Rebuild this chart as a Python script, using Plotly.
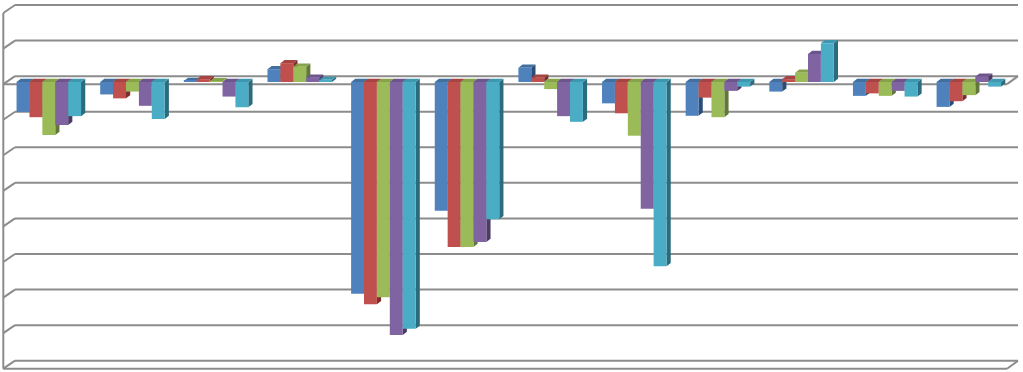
import plotly.graph_objects as go

# ---------------- data (values in gridline units) ----------------
categories = ["1", "2", "3", "4", "5", "6", "7", "8", "9", "10", "11", "12"]
series_names = ["Series 1", "Series 2", "Series 3", "Series 4", "Series 5"]
s1 = [-0.84, -0.35, 0.03, 0.36, -5.95, -3.62, 0.40, -0.60, -0.95, -0.27, -0.39, -0.70]
s2 = [-0.99, -0.46, 0.08, 0.53, -6.25, -4.64, 0.12, -0.88, -0.44, 0.08, -0.32, -0.54]
s3 = [-1.49, -0.27, 0.02, 0.43, -6.05, -4.64, -0.20, -1.51, -0.99, 0.26, -0.39, -0.37]
s4 = [-1.21, -0.67, -0.41, 0.12, -7.11, -4.50, -0.96, -3.56, -0.25, 0.79, -0.25, 0.15]
s5 = [-0.96, -1.04, -0.71, 0.06, -6.94, -3.86, -1.12, -5.18, -0.13, 1.09, -0.41, -0.13]
series = [s1, s2, s3, s4, s5]

# ---------------- styles ----------------
front_colors = ["#4F81BD", "#C0504D", "#9BBB59", "#8064A2", "#4BACC6"]
top_colors = ["#41709F", "#A54441", "#86A34A", "#6C548C", "#3C97AF"]
side_colors = ["#2C4D75", "#7D2F2D", "#62783A", "#4C3B63", "#2A6B7E"]
grid_color = "#8C8C8C"

W, H = 1023, 372
px_per_cat = 83.64
px_per_unit = 35.57
zero_px = 82.0
x_left_px, x_right_px = 15.0, 1018.0
first_center_px = 48.8

bar_w = 12.9 / px_per_cat          # front face width in category units
dx = 4.2 / px_per_cat              # depth offset (x)
dy = 3.2 / px_per_unit             # depth offset (y)
depth_front = 8.0 / px_per_unit    # wall depth (y offset)
tick0 = (zero_px - 5.0) / px_per_unit - 2  # back-wall gridline offset

xr0 = -(first_center_px - x_left_px) / px_per_cat
xr1 = xr0 + (x_right_px - x_left_px) / px_per_cat
yr0 = -(H - zero_px) / px_per_unit
yr1 = zero_px / px_per_unit

xpos = list(range(len(categories)))

fig = go.Figure()
shapes = []

# ---- back-wall gridlines, side wall, floor (all beneath the bars) ----
wall_x_front = 3.3 / W
wall_x_back = x_left_px / W
gl = dict(color=grid_color, width=2)
for k in range(11):
    g = tick0 + 2 - k
    shapes.append(dict(type="line", xref="paper", yref="y", layer="below",
                       x0=wall_x_back, y0=g, x1=x_right_px / W, y1=g, line=gl))
    shapes.append(dict(type="line", xref="paper", yref="y", layer="below",
                       x0=wall_x_front, y0=g - depth_front, x1=wall_x_back, y1=g, line=gl))
shapes.append(dict(type="line", xref="paper", yref="y", layer="below",
                   x0=wall_x_front, y0=tick0 + 2 - depth_front,
                   x1=wall_x_front, y1=tick0 - 8 - depth_front, line=gl))
floor_g = tick0 - 8
shapes.append(dict(type="line", xref="paper", yref="y", layer="below",
                   x0=wall_x_front, y0=floor_g - depth_front, x1=1007 / W, y1=floor_g - depth_front, line=gl))
shapes.append(dict(type="line", xref="paper", yref="y", layer="below",
                   x0=1007 / W, y0=floor_g - depth_front, x1=x_right_px / W, y1=floor_g, line=gl))
shapes.append(dict(type="line", xref="paper", yref="y", layer="below",
                   x0=wall_x_front, y0=tick0 - depth_front, x1=1007 / W, y1=tick0 - depth_front, line=gl))
shapes.append(dict(type="line", xref="paper", yref="y", layer="below",
                   x0=1007 / W, y0=tick0 - depth_front, x1=x_right_px / W, y1=tick0, line=gl))

# ---- bars (front faces) + 3D side / top faces ----
for j, vals in enumerate(series):
    off = (j - 2.5) * bar_w
    fig.add_trace(go.Bar(
        x=xpos, y=vals, name=series_names[j], width=bar_w, offset=off,
        opacity=1,
        marker=dict(color=front_colors[j], line=dict(width=0)),
        hoverinfo="y",
    ))
    for i, v in zip(xpos, vals):
        xl = i + off
        xr = xl + bar_w
        b, t = min(v, 0), max(v, 0)
        shapes.append(dict(
            type="path", xref="x", yref="y", layer="below",
            path=f"M {xr},{b} L {xr},{t} L {xr+dx},{t+dy} L {xr+dx},{b+dy} Z",
            fillcolor=side_colors[j], line=dict(width=0)))
        shapes.append(dict(
            type="path", xref="x", yref="y", layer="below",
            path=f"M {xl},{t} L {xr},{t} L {xr+dx},{t+dy} L {xl+dx},{t+dy} Z",
            fillcolor=top_colors[j], line=dict(width=0)))

fig.update_layout(
    width=W, height=H,
    margin=dict(l=0, r=0, t=0, b=0),
    paper_bgcolor="white",
    plot_bgcolor="rgba(0,0,0,0)",
    barmode="overlay",
    showlegend=False,
    shapes=shapes,
    xaxis=dict(range=[xr0, xr1], domain=[x_left_px / W, x_right_px / W],
               showgrid=False, zeroline=False, showticklabels=False,
               ticks="", showline=False, fixedrange=True),
    yaxis=dict(range=[yr0, yr1], showgrid=False,
               zeroline=False, showticklabels=False,
               ticks="", showline=False, fixedrange=True),
)

fig.write_html("out.html", config={"displayModeBar": False},
               post_script="document.body.style.margin='0';")
